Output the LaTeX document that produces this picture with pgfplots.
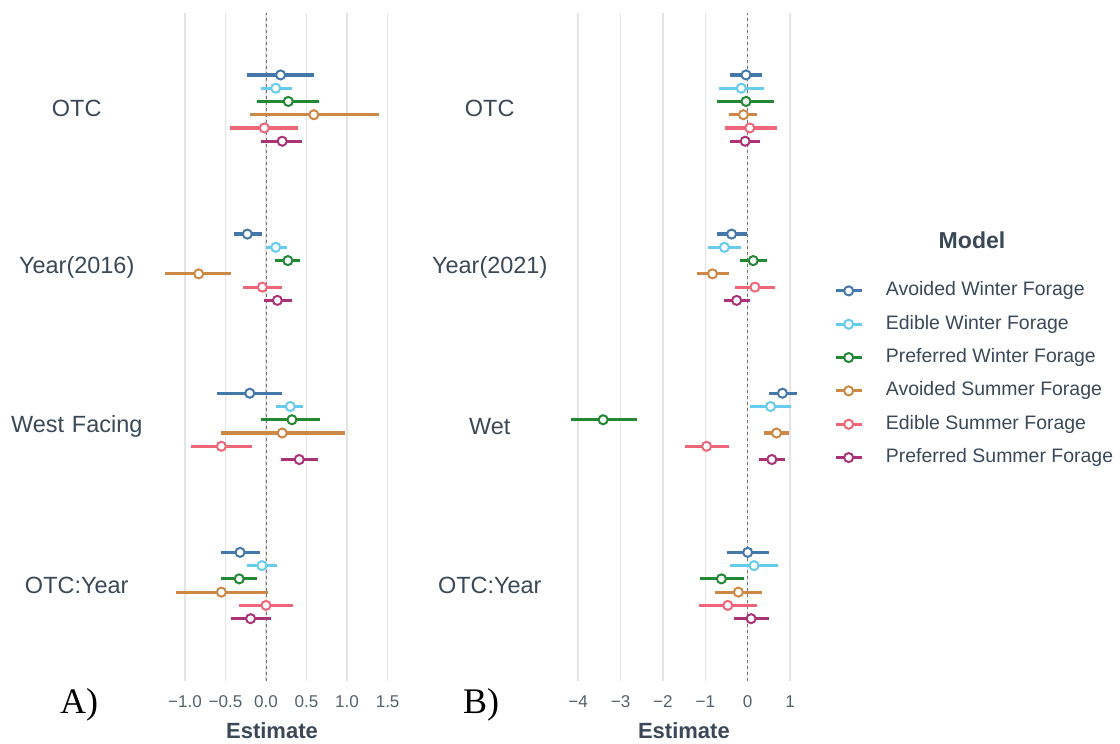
\documentclass[border=0pt]{standalone}
\usepackage{pgfplots}
\pgfplotsset{compat=1.18}
\usepackage{pgfplotstable}
\usepackage{fontspec}
\setmainfont{Liberation Sans}
\newfontfamily\serifA{Liberation Serif}

\definecolor{cAW}{HTML}{4477AA}
\definecolor{cEW}{HTML}{66CCEE}
\definecolor{cPW}{HTML}{228833}
\definecolor{cAS}{HTML}{CC8844}
\definecolor{cES}{HTML}{EE6677}
\definecolor{cPS}{HTML}{AA3377}
\definecolor{txt}{HTML}{3A4858}
\definecolor{tck}{HTML}{55606C}
\definecolor{grd}{HTML}{E4E4E4}

% columns: y (4=OTC,3=Year,2=West/Wet,1=OTC:Year), estimate, low, high per model
\pgfplotstableread{
y aw awl awh ew ewl ewh pw pwl pwh as asl ash es esl esh ps psl psh
4 0.18 -0.23 0.59 0.12 -0.065 0.32 0.275 -0.11 0.65 0.59 -0.20 1.39 -0.02 -0.44 0.39 0.20 -0.06 0.45
3 -0.23 -0.40 -0.05 0.12 0.0 0.255 0.27 0.11 0.42 -0.83 -1.24 -0.43 -0.045 -0.28 0.20 0.14 -0.03 0.32
2 -0.20 -0.60 0.20 0.30 0.12 0.46 0.32 -0.06 0.67 0.20 -0.56 0.97 -0.55 -0.93 -0.17 0.41 0.185 0.645
1 -0.32 -0.56 -0.07 -0.05 -0.23 0.135 -0.33 -0.55 -0.115 -0.55 -1.11 0.03 0.0 -0.33 0.33 -0.19 -0.43 0.06
}\tabA

\pgfplotstableread{
y aw awl awh ew ewl ewh pw pwl pwh as asl ash es esl esh ps psl psh
4 -0.04 -0.41 0.34 -0.15 -0.67 0.39 -0.04 -0.72 0.63 -0.10 -0.43 0.22 0.05 -0.54 0.68 -0.06 -0.42 0.30
3 -0.38 -0.73 -0.02 -0.55 -0.94 -0.15 0.13 -0.17 0.46 -0.83 -1.20 -0.44 0.17 -0.31 0.65 -0.26 -0.56 0.05
2 0.82 0.50 1.16 0.54 0.06 1.03 -3.41 -4.17 -2.61 0.68 0.38 0.97 -0.97 -1.49 -0.43 0.57 0.27 0.88
1 0.0 -0.49 0.50 0.15 -0.41 0.71 -0.62 -1.13 -0.09 -0.22 -0.77 0.34 -0.47 -1.16 0.23 0.08 -0.33 0.51
}\tabB

\newcommand{\ser}[4]{%
\addplot[color=#1, only marks, mark=*, mark size=3.4pt,
  mark options={fill=white, line width=1.5pt, solid},
  error bars/.cd, x dir=both, x explicit, error mark=none,
  error bar style={line width=2.4pt, solid}]
  table[x=#2, y expr=\thisrow{y}+(#3),
    x error plus expr=\thisrow{#2h}-\thisrow{#2},
    x error minus expr=\thisrow{#2}-\thisrow{#2l}] {#4};}

\pgfplotsset{myax/.style={
  scale only axis, height=501.3pt,
  ymin=0.4, ymax=4.6, ytick={1,2,3,4},
  axis line style={draw=none}, major tick length=0pt,
  xmajorgrids, grid style={grd, line width=1.1pt},
  xticklabel style={font=\fontsize{12.8}{14}\selectfont, color=tck, inner sep=0pt, anchor=north, yshift=-11pt},
  yticklabel style={font=\fontsize{17.6}{20}\selectfont, color=txt, inner sep=0pt, anchor=east, align=center},
  xlabel style={at={(axis description cs:0.5,0)}, anchor=center, yshift=-37.5pt,
    font=\fontsize{16.5}{18}\selectfont\bfseries, color=txt},
  xlabel={Estimate},
}}

\begin{document}
\begin{tikzpicture}
\useasboundingbox (0pt,0pt) rectangle (840pt,557.25pt);

\begin{axis}[myax, at={(116.25pt,46.5pt)}, anchor=south west, width=175.5pt,
  xmin=-1.369, xmax=1.517,
  xtick={-1,-0.5,0,0.5,1,1.5},
  xticklabels={−1.0,−0.5,0.0,0.5,1.0,1.5},
  yticklabels={OTC:Year,West Facing,Year(2016),OTC},
  yticklabel style={text width=117pt}]
\addplot[forget plot, color=black!55, line width=0.6pt, dash pattern=on 2.5pt off 2pt] coordinates {(0,0.4) (0,4.6)};
\ser{cAW}{aw}{0.2083}{\tabA}
\ser{cEW}{ew}{0.125}{\tabA}
\ser{cPW}{pw}{0.0417}{\tabA}
\ser{cAS}{as}{-0.0417}{\tabA}
\ser{cES}{es}{-0.125}{\tabA}
\ser{cPS}{ps}{-0.2083}{\tabA}
\end{axis}

\begin{axis}[myax, at={(419.625pt,46.5pt)}, anchor=south west, width=186.6pt,
  xmin=-4.44, xmax=1.43,
  xtick={-4,-3,-2,-1,0,1},
  xticklabels={−4,−3,−2,−1,0,1},
  yticklabels={OTC:Year,Wet,Year(2021),OTC},
  yticklabel style={text width=104.25pt},
  legend cell align=left,
  legend style={draw=none, fill=none, at={(1.103,0.5985)}, anchor=north west,
    font=\fontsize{14.6}{17}\selectfont, text=txt, row sep=10.5pt, inner sep=0pt,
    nodes={inner sep=0pt, text height=11pt, text depth=3.5pt}},
  legend image code/.code={%
    \draw[line width=2.2pt] (0pt,0pt) -- (19.5pt,0pt);
    \draw[line width=1.5pt, fill=white] (9.75pt,0pt) circle (3.4pt);
    \path (37.5pt,0pt);}]
\addplot[forget plot, color=black!55, line width=0.6pt, dash pattern=on 2.5pt off 2pt] coordinates {(0,0.4) (0,4.6)};
\ser{cAW}{aw}{0.2083}{\tabB}
\addlegendentry{Avoided Winter Forage}
\ser{cEW}{ew}{0.125}{\tabB}
\addlegendentry{Edible Winter Forage}
\ser{cPW}{pw}{0.0417}{\tabB}
\addlegendentry{Preferred Winter Forage}
\ser{cAS}{as}{-0.0417}{\tabB}
\addlegendentry{Avoided Summer Forage}
\ser{cES}{es}{-0.125}{\tabB}
\addlegendentry{Edible Summer Forage}
\ser{cPS}{ps}{-0.2083}{\tabB}
\addlegendentry{Preferred Summer Forage}
\end{axis}

\node[font=\fontsize{17.3}{20}\selectfont\bfseries, text=txt] at (729pt,377.25pt) {Model};
\node[font=\serifA\fontsize{27}{30}\selectfont] at (59.25pt,28.5pt) {A)};
\node[font=\serifA\fontsize{27}{30}\selectfont] at (360.75pt,28.5pt) {B)};
\end{tikzpicture}
\end{document}
